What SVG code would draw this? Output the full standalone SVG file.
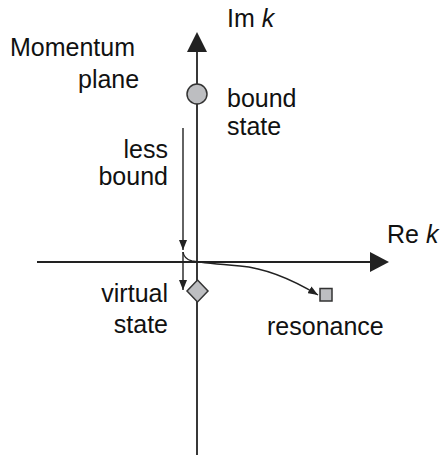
<svg xmlns="http://www.w3.org/2000/svg" width="443" height="455" viewBox="0 0 443 455">
<defs>
<style>
.ax{stroke:#222;stroke-width:1.8;fill:none}
.ln{stroke:#222;stroke-width:1.4;fill:none}
.nd{fill:#bdbec1;stroke:#333;stroke-width:1.5}
text{font-family:"Liberation Sans",Arial,sans-serif;font-size:25px;fill:#111}
.it{font-style:italic}
</style>
<marker id="ah" viewBox="0 0 10 8" refX="10" refY="4" markerWidth="10" markerHeight="8" markerUnits="userSpaceOnUse" orient="auto">
<path d="M0,0 L10,4 L0,8 Z" fill="#222"/>
</marker>
</defs>
<rect width="443" height="455" fill="#fff"/>
<g id="connectors">
<line class="ax" x1="197" y1="455" x2="197" y2="50"/>
<path d="M187,52 L197,32 L207,52 Z" fill="#222"/>
<line class="ax" x1="37" y1="262" x2="372" y2="262"/>
<path d="M370,252 L389,262 L370,272 Z" fill="#222"/>
<line class="ln" x1="183" y1="128" x2="183" y2="250" marker-end="url(#ah)"/>
<line class="ln" x1="183" y1="252" x2="183" y2="290" marker-end="url(#ah)"/>
<path class="ln" d="M183,252 Q184,259 192,261 Q205,263 240,266 Q275,269 318,295" marker-end="url(#ah)"/>
</g>
<g id="bound-state">
<circle class="nd" cx="197" cy="94" r="10"/>
<text x="227" y="107">bound</text>
<text x="227" y="135">state</text>
</g>
<g id="virtual-state">
<path class="nd" d="M197.5,280 L208,291 L197.5,302 L187,291 Z"/>
<text x="168" y="302" text-anchor="end">virtual</text>
<text x="168" y="333" text-anchor="end">state</text>
</g>
<g id="resonance">
<rect class="nd" x="320" y="288.5" width="12" height="12.5"/>
<text x="267" y="335">resonance</text>
</g>
<g id="labels">
<text x="10" y="56">Momentum</text>
<text x="78" y="88">plane</text>
<text x="168" y="158" text-anchor="end">less</text>
<text x="168" y="185" text-anchor="end">bound</text>
<text x="227" y="27">Im <tspan class="it">k</tspan></text>
<text x="387" y="243">Re <tspan class="it">k</tspan></text>
</g>
</svg>
